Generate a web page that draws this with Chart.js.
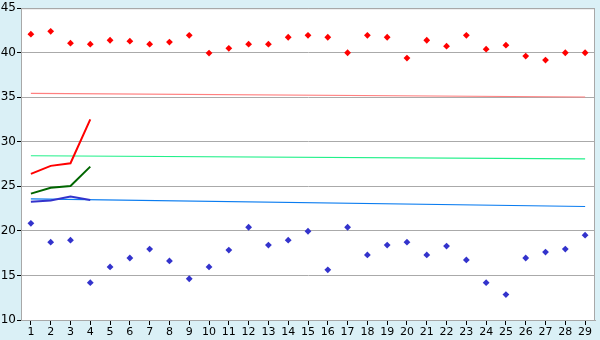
<!DOCTYPE html>
<html>
<head>
<meta charset="utf-8">
<script src="https://cdn.jsdelivr.net/npm/chart.js@4/dist/chart.umd.min.js"></script>
<style>
  html, body { margin: 0; padding: 0; background: #daf0f6; }
  #wrap { width: 600px; height: 340px; }
</style>
</head>
<body>
<div id="wrap"><canvas id="chart" width="600" height="340"></canvas></div>
<script>
// x categories (days)
const days = ["1","2","3","4","5","6","7","8","9","10","11","12","13","14","15",
  "16","17","18","19","20","21","22","23","24","25","26","27","28","29"];

// daily highs / lows (markers)
const highs = [42.08, 42.4, 41.07, 40.96, 41.4, 41.3, 40.96, 41.2, 41.96, 39.96,
  40.5, 40.96, 40.96, 41.74, 41.96, 41.74, 40.0, 41.96, 41.74, 39.4,
  41.4, 40.74, 41.96, 40.4, 40.85, 39.63, 39.18, 40.0, 40.0];
const lows = [20.85, 18.74, 18.96, 14.19, 15.96, 16.96, 17.96, 16.63, 14.63, 15.96,
  17.85, 20.41, 18.41, 18.96, 19.96, 15.63, 20.41, 17.3, 18.41, 18.74,
  17.3, 18.3, 16.74, 14.19, 12.85, 16.96, 17.63, 17.96, 19.52];

// short lines, first four days only
const redLine = [26.41, 27.3, 27.6, 32.52];
const greenLine = [24.19, 24.85, 25.04, 27.22];
const blueLine = [23.26, 23.41, 23.85, 23.48];

// reference lines: value on first and last day
const pinkRef = [35.45, 35.03];
const mintRef = [28.44, 28.08];
const skyRef = [23.59, 22.74];

const yTicks = [10, 15, 20, 25, 30, 35, 40, 45];

function endpoints(pair) {
  const arr = days.map(() => null);
  arr[0] = pair[0];
  arr[days.length - 1] = pair[1];
  return arr;
}

const frame = {
  id: "frame",
  beforeDraw(chart) {
    const { ctx, chartArea: a } = chart;
    ctx.save();
    ctx.fillStyle = "#ffffff";
    ctx.fillRect(a.left, a.top, a.right - a.left, a.bottom - a.top);
    ctx.restore();
  },
  afterDraw(chart) {
    const { ctx, chartArea: a } = chart;
    ctx.save();
    ctx.strokeStyle = "#a8a8a8";
    ctx.lineWidth = 1;
    ctx.strokeRect(a.left + 0.5, a.top + 0.5, a.right - a.left - 1, a.bottom - a.top);
    ctx.restore();
  }
};

const refLine = (data, color) => ({
  type: "line",
  data: endpoints(data),
  borderColor: color,
  borderWidth: 1.2,
  pointRadius: 0,
  spanGaps: true,
  order: 3
});

const shortLine = (data, color) => ({
  type: "line",
  data: data,
  borderColor: color,
  borderWidth: 2,
  pointRadius: 0,
  tension: 0,
  order: 2
});

const markers = (data, color) => ({
  type: "line",
  data: data,
  showLine: false,
  pointStyle: "rectRot",
  pointRadius: 3.4,
  pointBackgroundColor: color,
  pointBorderColor: color,
  pointBorderWidth: 0,
  order: 1
});

new Chart(document.getElementById("chart"), {
  type: "line",
  data: {
    labels: days,
    datasets: [
      markers(highs, "#ff0000"),
      markers(lows, "#3333cc"),
      shortLine(redLine, "#ff0000"),
      shortLine(greenLine, "#006600"),
      shortLine(blueLine, "#3333cc"),
      refLine(pinkRef, "#ff8080"),
      refLine(mintRef, "#22f08a"),
      refLine(skyRef, "#0a7cf0")
    ]
  },
  options: {
    responsive: false,
    animation: false,
    layout: { padding: { top: 5, right: 5, left: 0, bottom: 0 } },
    plugins: {
      legend: { display: false },
      tooltip: { enabled: false }
    },
    scales: {
      x: {
        type: "category",
        offset: true,
        afterFit(scale) { scale.height = 20; },
        grid: { drawOnChartArea: false, drawTicks: true, tickLength: 5, tickColor: "#000" },
        border: { color: "#a8a8a8" },
        ticks: {
          color: "#000",
          font: { family: "DejaVu Sans", size: 11 },
          padding: 1,
          maxRotation: 0,
          autoSkip: false
        }
      },
      y: {
        min: 10,
        max: 45,
        afterFit(scale) { scale.width = 21; },
        afterBuildTicks(scale) { scale.ticks = yTicks.map(v => ({ value: v })); },
        grid: { color: "#aaaaaa", tickLength: 4, tickColor: "#000" },
        border: { color: "#a8a8a8" },
        ticks: {
          color: "#000",
          font: { family: "DejaVu Sans", size: 12 },
          padding: 1
        }
      }
    }
  },
  plugins: [frame]
});
</script>
</body>
</html>
